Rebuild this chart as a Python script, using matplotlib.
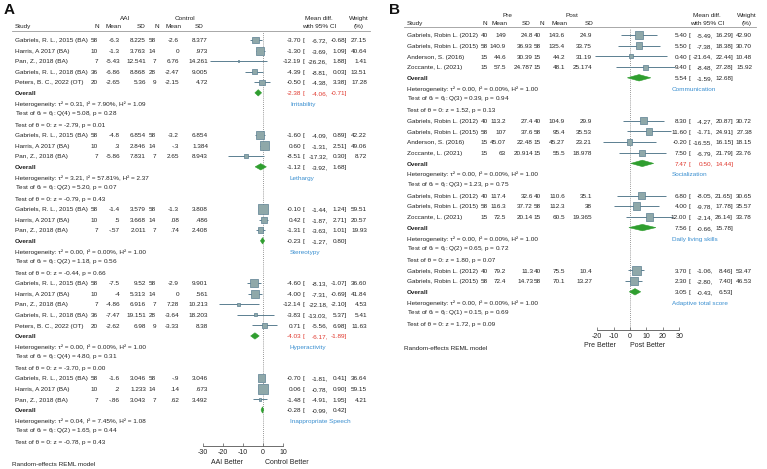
import numpy as np
import matplotlib
matplotlib.use("Agg")
import matplotlib.pyplot as plt
from matplotlib import transforms
from matplotlib.patches import Polygon
from matplotlib.lines import Line2D

plt.rcParams["font.family"] = ["Liberation Sans", "DejaVu Sans"]
plt.rcParams["mathtext.fontset"] = "custom"
plt.rcParams["mathtext.rm"] = "Liberation Sans"
plt.rcParams["mathtext.it"] = "Liberation Sans:italic"
plt.rcParams["axes.unicode_minus"] = False

# ---------------- panel A data (AAI vs control) ----------------
a_names = ["Gabriels, R. L., 2015 (BA)", "Harris, A 2017 (BA)", "Pan, Z., 2018 (BA)",
           "Gabriels, R. L., 2018 (BA)", "Peters, B. C., 2022 (OT)",
           "Gabriels, R. L., 2015 (BA)", "Harris, A 2017 (BA)", "Pan, Z., 2018 (BA)",
           "Gabriels, R. L., 2015 (BA)", "Harris, A 2017 (BA)", "Pan, Z., 2018 (BA)",
           "Gabriels, R. L., 2015 (BA)", "Harris, A 2017 (BA)", "Pan, Z., 2018 (BA)",
           "Gabriels, R. L., 2018 (BA)", "Peters, B. C., 2022 (OT)",
           "Gabriels, R. L., 2015 (BA)", "Harris, A 2017 (BA)", "Pan, Z., 2018 (BA)"]
a_grp = [0, 0, 0, 0, 0, 1, 1, 1, 2, 2, 2, 3, 3, 3, 3, 3, 4, 4, 4]
a_n1 = ["58", "10", "7", "36", "20", "58", "10", "7", "58", "10", "7",
        "58", "10", "7", "36", "20", "58", "10", "7"]
a_m1 = ["-6.3", "-1.3", "-5.43", "-6.86", "-2.65", "-4.8", ".3", "-5.86", "-1.4", ".5", "-.57",
        "-7.5", "-4", "-4.86", "-7.47", "-2.62", "-1.6", ".2", "-.86"]
a_sd1 = ["8.225", "3.763", "12.541", "8.868", "5.36", "6.854", "2.846", "7.831", "3.579", "3.668",
         "2.011", "9.52", "5.313", "6.916", "19.151", "6.98", "3.046", "1.233", "3.043"]
a_n2 = ["58", "14", "7", "28", "9", "58", "14", "7", "58", "14", "7",
        "58", "14", "7", "28", "9", "58", "14", "7"]
a_m2 = ["-2.6", "0", "6.76", "-2.47", "-2.15", "-3.2", "-.3", "2.65", "-1.3", ".08", ".74",
        "-2.9", "0", "7.28", "-3.64", "-3.33", "-.9", ".14", ".62"]
a_sd2 = ["8.377", ".973", "14.261", "9.005", "4.72", "6.854", "1.384", "8.943", "3.808", ".486",
         "2.408", "9.901", ".561", "10.213", "18.203", "8.38", "3.046", ".673", "3.492"]
a_est = [-3.70, -1.30, -12.19, -4.39, -0.50, -1.60, 0.60, -8.51, -0.10, 0.42, -1.31,
         -4.60, -4.00, -12.14, -3.83, 0.71, -0.70, 0.06, -1.48]
a_lo = [-6.72, -3.69, -26.26, -8.81, -4.38, -4.09, -1.31, -17.32, -1.44, -1.87, -3.63,
        -8.13, -7.31, -22.18, -13.03, -5.56, -1.81, -0.78, -4.91]
a_hi = [-0.68, 1.09, 1.88, 0.03, 3.38, 0.89, 2.51, 0.30, 1.24, 2.71, 1.01,
        -1.07, -0.69, -2.10, 5.37, 6.98, 0.41, 0.90, 1.95]
a_wt = [27.15, 40.64, 1.41, 13.51, 17.28, 42.22, 49.06, 8.72, 59.51, 20.57, 19.93,
        36.60, 41.84, 4.53, 5.41, 11.63, 36.64, 59.15, 4.21]
a_labels = ["Irritability", "Lethargy", "Stereotypy", "Hyperactivity", "Inappropriate Speech"]
a_ov_est = [-2.38, -1.12, -0.23, -4.03, -0.28]
a_ov_lo = [-4.06, -3.92, -1.27, -6.17, -0.99]
a_ov_hi = [-0.71, 1.68, 0.80, -1.89, 0.42]
a_tau2 = [0.31, 3.21, 0.00, 0.00, 0.04]
a_i2 = [7.90, 57.81, 0.00, 0.00, 7.45]
a_h2 = [1.09, 2.37, 1.00, 1.00, 1.08]
a_qdf = [4, 2, 2, 4, 2]
a_q = [5.08, 5.20, 1.18, 4.80, 1.65]
a_qp = [0.28, 0.07, 0.56, 0.31, 0.44]
a_z = [-2.79, -0.79, -0.44, -3.70, -0.78]
a_zp = [0.01, 0.43, 0.66, 0.00, 0.43]
a_ticks = [-30, -20, -10, 0, 10]

# ---------------- panel B data (pre vs post) ----------------
b_names = ["Gabriels, Robin L. (2012)", "Gabriels, Robin L. (2015)", "Anderson, S. (2016)",
           "Zoccante, L. (2021)",
           "Gabriels, Robin L. (2012)", "Gabriels, Robin L. (2015)", "Anderson, S. (2016)",
           "Zoccante, L. (2021)",
           "Gabriels, Robin L. (2012)", "Gabriels, Robin L. (2015)", "Zoccante, L. (2021)",
           "Gabriels, Robin L. (2012)", "Gabriels, Robin L. (2015)"]
b_grp = [0, 0, 0, 0, 1, 1, 1, 1, 2, 2, 2, 3, 3]
b_n1 = ["40", "58", "15", "15", "40", "58", "15", "15", "40", "58", "15", "40", "58"]
b_m1 = ["149", "140.9", "44.6", "57.5", "113.2", "107", "45.07", "63", "117.4", "116.3",
        "72.5", "79.2", "72.4"]
b_sd1 = ["24.8", "36.93", "30.39", "24.787", "27.4", "37.6", "22.48", "20.914", "32.6",
         "37.72", "20.14", "11.3", "14.73"]
b_n2 = ["40", "58", "15", "15", "40", "58", "15", "15", "40", "58", "15", "40", "58"]
b_m2 = ["143.6", "135.4", "44.2", "48.1", "104.9", "95.4", "45.27", "55.5", "110.6", "112.3",
        "60.5", "75.5", "70.1"]
b_sd2 = ["24.9", "33.75", "31.19", "25.174", "29.9", "35.53", "23.21", "18.978", "35.1", "38",
         "19.365", "10.4", "13.27"]
b_est = [5.40, 5.50, 0.40, 9.40, 8.30, 11.60, -0.20, 7.50, 6.80, 4.00, 12.00, 3.70, 2.30]
b_lo = [-5.49, -7.38, -21.64, -8.48, -4.27, -1.71, -16.55, -6.79, -8.05, -9.78, -2.14,
        -1.06, -2.80]
b_hi = [16.29, 18.38, 22.44, 27.28, 20.87, 24.91, 16.15, 21.79, 21.65, 17.78, 26.14,
        8.46, 7.40]
b_wt = [42.90, 30.70, 10.48, 15.92, 30.72, 27.38, 18.15, 23.76, 30.65, 35.57, 33.78,
        53.47, 46.53]
b_labels = ["Communication", "Socialization", "Daily living skills", "Adaptive total score"]
b_ov_est = [5.54, 7.47, 7.56, 3.05]
b_ov_lo = [-1.59, 0.50, -0.66, -0.43]
b_ov_hi = [12.68, 14.44, 15.78, 6.53]
b_tau2 = [0.00, 0.00, 0.00, 0.00]
b_i2 = [0.00, 0.00, 0.00, 0.00]
b_h2 = [1.00, 1.00, 1.00, 1.00]
b_qdf = [3, 3, 2, 1]
b_q = [0.39, 1.23, 0.65, 0.15]
b_qp = [0.94, 0.75, 0.72, 0.69]
b_z = [1.52, None, 1.80, 1.72]
b_zp = [0.13, None, 0.07, 0.09]
b_ticks = [-20, -10, 0, 10, 20, 30]

W, H = 767, 469
FS = 4.6
TXT = "#222222"
LINE_C = "#5b7f91"
BOX_C = "#8fa8a9"
DIA_C = "#2f9e2f"
RED = "#e0382e"
BLUE = "#3a8fd0"
BASE = 0.21  # baseline shift (rows) so text is centred on its row

fig = plt.figure(figsize=(W / 100, H / 100), dpi=100)


def fx(px):
    return px / W


def fy(py):
    return 1 - py / H


def hdr_text(px, py, s, ha):
    fig.text(fx(px), fy(py + 2.2), s, ha=ha, va="baseline", fontsize=FS, color=TXT)


def draw_panel(tag, names, grp, n1, m1, sd1, n2, m2, sd2, est, lo, hi, wt,
               labels, ov_est, ov_lo, ov_hi, tau2, i2, h2, qdf, q, qp, z, zp,
               ticks, arms, better, lay):
    l, t, r, b = lay["ax"]
    ax = fig.add_axes([fx(l), fy(b), (r - l) / W, (b - t) / H])
    ax.set_xlim(lay["xlim"])
    row0, dy = lay["row0"], lay["dy"]
    ax.set_ylim((b - row0) / dy, (t - row0) / dy)
    tr = transforms.blended_transform_factory(fig.transFigure, ax.transData)
    c = lay["cols"]

    def put(px, row, s, ha="left", **kw):
        kw.setdefault("color", TXT)
        fig.text(fx(px), row + BASE, s, transform=tr, ha=ha, va="baseline",
                 fontsize=FS, **kw)

    def ci_text(row, e, lo_, hi_, color=TXT):
        put(c["est"], row, f"{e:.2f}", "right", color=color)
        put(c["lb"], row, "[", color=color)
        put(c["lo"], row, f"{lo_:.2f},", "right", color=color)
        put(c["hi"], row, f"{hi_:.2f}]", "right", color=color)

    # build rows
    grp = np.array(grp)
    row = 0
    study_rows, ov_rows, stat_rows = [], [], []
    for g in range(len(labels)):
        for _ in np.where(grp == g)[0]:
            study_rows.append(row)
            row += 1
        ov_rows.append(row)
        row += 1
        nst = 3 if z[g] is not None else 2
        stat_rows.append(list(range(row, row + nst)))
        row += nst

    # study rows
    for k, rr in enumerate(study_rows):
        put(c["study"], rr, names[k])
        put(c["n1"], rr, n1[k], "right")
        put(c["m1"], rr, m1[k], "right")
        put(c["sd1"], rr, sd1[k], "right")
        put(c["n2"], rr, n2[k], "right")
        put(c["m2"], rr, m2[k], "right")
        put(c["sd2"], rr, sd2[k], "right")
        ci_text(rr, est[k], lo[k], hi[k])
        put(c["wt"], rr, f"{wt[k]:.2f}", "right")

    ax.hlines(study_rows, lo, hi, color=LINE_C, lw=0.7, zorder=2)
    ax.scatter(est, study_rows, marker="s", s=np.array(wt) * 0.8, facecolor=BOX_C,
               edgecolor=LINE_C, linewidth=0.5, zorder=3)

    # overall rows
    for g, rr in enumerate(ov_rows):
        put(c["study"], rr, "Overall", fontweight="bold")
        sig = ov_lo[g] > 0 or ov_hi[g] < 0
        ci_text(rr, ov_est[g], ov_lo[g], ov_hi[g], RED if sig else TXT)
        hh = 0.3
        ax.add_patch(Polygon([(ov_lo[g], rr), (ov_est[g], rr - hh), (ov_hi[g], rr),
                              (ov_est[g], rr + hh)], closed=True, facecolor=DIA_C,
                             edgecolor=DIA_C, lw=0.4, zorder=3))
        sr = stat_rows[g]
        put(c["study"], sr[0],
            f"Heterogeneity: τ² = {tau2[g]:.2f}, I² = {i2[g]:.2f}%, H² = {h2[g]:.2f}")
        put(c["study"], sr[1],
            f"Test of θ$_i$ = θ$_j$: Q({qdf[g]}) = {q[g]:.2f}, p = {qp[g]:.2f}")
        if z[g] is not None:
            put(c["study"], sr[2], f"Test of θ = 0: z = {z[g]:.2f}, p = {zp[g]:.2f}")
        put(c["lab"], sr[0], labels[g], color=BLUE)

    ax.axvline(0, ls=(0, (1, 1.5)), color="#777777", lw=0.6, zorder=1)

    for s in ["top", "right", "left"]:
        ax.spines[s].set_visible(False)
    ax.spines["bottom"].set_bounds(ticks[0], ticks[-1])
    ax.spines["bottom"].set_color("#555555")
    ax.spines["bottom"].set_linewidth(0.6)
    ax.set_yticks([])
    ax.set_xticks(ticks)
    ax.tick_params(axis="x", direction="in", length=2.5, width=0.5, pad=2.5,
                   labelsize=5, color="#555555", labelcolor=TXT)
    ax.patch.set_alpha(0)

    trx = transforms.blended_transform_factory(ax.transData, fig.transFigure)
    for xv, s in zip(lay["better_x"], better):
        fig.text(xv, fy(lay["better_y"]), s, transform=trx, ha="center", va="center",
                 fontsize=5, color=TXT)

    # headers
    h1, h2y = lay["hdr"]
    hdr_text(lay["arm_x"][0], h1, arms[0], "center")
    hdr_text(lay["arm_x"][1], h1, arms[1], "center")
    hdr_text(c["study"], h2y, "Study", "left")
    for key, s in zip(["hn1", "hm1", "hsd1", "hn2", "hm2", "hsd2"],
                      ["N", "Mean", "SD", "N", "Mean", "SD"]):
        hdr_text(c[key], h2y, s, "right")
    hdr_text(c["hci"], h1, "Mean diff.", "center")
    hdr_text(c["hci"], h2y, "with 95% CI", "center")
    hdr_text(c["hwt"], h1, "Weight", "center")
    hdr_text(c["hwt"], h2y, "(%)", "center")
    x0, x1, ly = lay["hline"]
    fig.add_artist(Line2D([fx(x0), fx(x1)], [fy(ly), fy(ly)], transform=fig.transFigure,
                          color="#9a9a9a", lw=0.6))

    fig.text(fx(c["study"] - 3), fy(lay["model_y"]), "Random-effects REML model", ha="left",
             va="center", fontsize=FS, color=TXT)
    fig.text(fx(lay["tag_x"]), fy(10), tag, ha="left", va="center", fontsize=11,
             fontweight="bold", color="#111111")


lay_a = dict(ax=(195, 32, 295, 446), xlim=(-34, 16), row0=40, dy=10.57,
             cols=dict(study=15, n1=98, m1=120, sd1=146, n2=156, m2=179, sd2=208,
                       est=301, lb=302.5, lo=328, hi=347, wt=367, lab=290,
                       hn1=99, hm1=122, hsd1=145, hn2=159, hm2=182, hsd2=203,
                       hci=319, hwt=359),
             better_x=(-18, 12), better_y=462, hdr=(18, 26), arm_x=(125, 185),
             hline=(12, 370, 31), model_y=464, tag_x=4)

lay_b = dict(ax=(585, 28, 690, 330), xlim=(-27.44, 36.59), row0=35, dy=10.7,
             cols=dict(study=407, n1=488, m1=506, sd1=533, n2=541, m2=565, sd2=592,
                       est=687, lb=688.5, lo=713, hi=733, wt=752, lab=672,
                       hn1=487, hm1=507, hsd1=530, hn2=544, hm2=567, hsd2=593,
                       hci=707, hwt=747),
             better_x=(-18.3, 11), better_y=345, hdr=(15, 23), arm_x=(507, 572),
             hline=(404, 756, 27), model_y=348, tag_x=389)

draw_panel("A", a_names, a_grp, a_n1, a_m1, a_sd1, a_n2, a_m2, a_sd2, a_est, a_lo, a_hi,
           a_wt, a_labels, a_ov_est, a_ov_lo, a_ov_hi, a_tau2, a_i2, a_h2, a_qdf, a_q,
           a_qp, a_z, a_zp, a_ticks, ("AAI", "Control"), ("AAI Better", "Control Better"),
           lay_a)
draw_panel("B", b_names, b_grp, b_n1, b_m1, b_sd1, b_n2, b_m2, b_sd2, b_est, b_lo, b_hi,
           b_wt, b_labels, b_ov_est, b_ov_lo, b_ov_hi, b_tau2, b_i2, b_h2, b_qdf, b_q,
           b_qp, b_z, b_zp, b_ticks, ("Pre", "Post"), ("Pre Better", "Post Better"),
           lay_b)

fig.savefig("out.png", dpi=100, facecolor="white")
